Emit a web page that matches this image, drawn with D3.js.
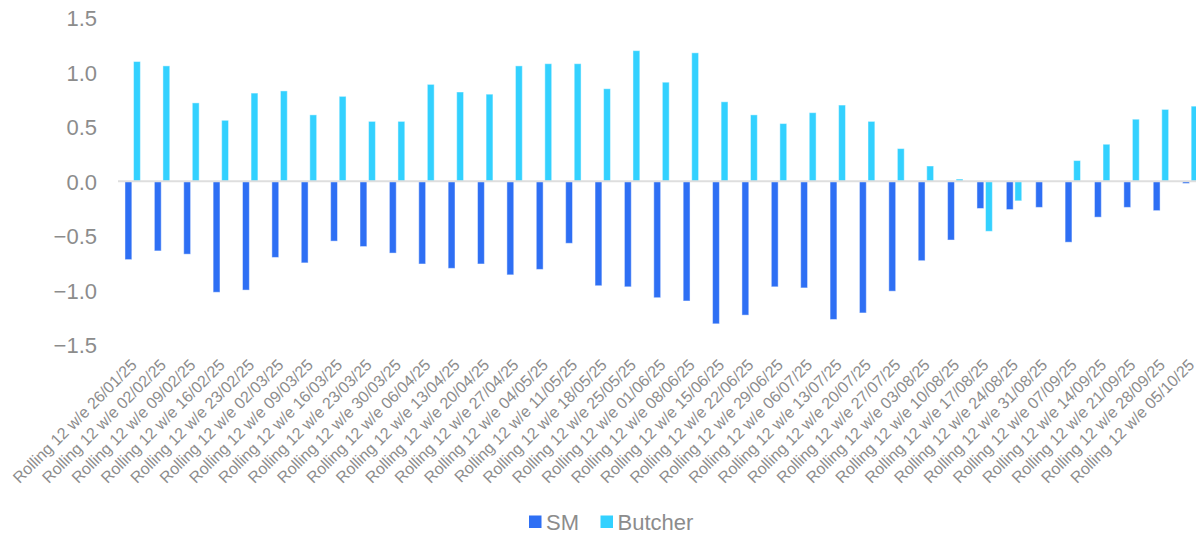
<!DOCTYPE html>
<html>
<head>
<meta charset="utf-8">
<script src="https://cdn.jsdelivr.net/npm/d3@7"></script>
<style>
  html, body { margin: 0; padding: 0; background: #ffffff; }
  svg { display: block; font-family: "Liberation Sans", Arial, sans-serif; }
</style>
</head>
<body>
<svg id="chart" width="1196" height="534"></svg>
<script>
// Weekly rolling 12-week periods
const categories = [
  "26/01/25", "02/02/25", "09/02/25", "16/02/25", "23/02/25", "02/03/25",
  "09/03/25", "16/03/25", "23/03/25", "30/03/25", "06/04/25", "13/04/25",
  "20/04/25", "27/04/25", "04/05/25", "11/05/25", "18/05/25", "25/05/25",
  "01/06/25", "08/06/25", "15/06/25", "22/06/25", "29/06/25", "06/07/25",
  "13/07/25", "20/07/25", "27/07/25", "03/08/25", "10/08/25", "17/08/25",
  "24/08/25", "31/08/25", "07/09/25", "14/09/25", "21/09/25", "28/09/25",
  "05/10/25"
].map(d => "Rolling 12 w/e " + d);

const seriesNames = ["SM", "Butcher"];

const smValues = [
  -0.72, -0.64, -0.67, -1.02, -1.00, -0.70, -0.75, -0.55, -0.60, -0.66,
  -0.76, -0.80, -0.76, -0.86, -0.81, -0.57, -0.96, -0.97, -1.07, -1.10,
  -1.31, -1.23, -0.97, -0.98, -1.27, -1.21, -1.01, -0.73, -0.54, -0.25,
  -0.26, -0.24, -0.56, -0.33, -0.24, -0.27, -0.02
];

const butcherValues = [
  1.10, 1.06, 0.72, 0.56, 0.81, 0.83, 0.61, 0.78, 0.55, 0.55,
  0.89, 0.82, 0.80, 1.06, 1.08, 1.08, 0.85, 1.20, 0.91, 1.18,
  0.73, 0.61, 0.53, 0.63, 0.70, 0.55, 0.30, 0.14, 0.02, -0.46,
  -0.18, 0.00, 0.19, 0.34, 0.57, 0.66, 0.69
];

const yTicks = [-1.5, -1.0, -0.5, 0.0, 0.5, 1.0, 1.5];

const colors = { "SM": "#2e6ff4", "Butcher": "#33d1ff" };
const textColor = "#8c8c8c";

const svg = d3.select("#chart");

const x = d3.scaleBand()
  .domain(categories)
  .range([118, 1205])
  .padding(0);

const y = d3.scaleLinear()
  .domain([-1.5, 1.5])
  .range([344.5, 18]);

const sub = d3.scaleBand()
  .domain(seriesNames)
  .range([-7.7, 7.7])
  .paddingInner(0.2);

const rows = categories.map((c, i) => ({
  category: c,
  values: [
    { series: "SM", value: smValues[i] },
    { series: "Butcher", value: butcherValues[i] }
  ]
}));

// Y axis tick labels (no axis line)
const yAxis = d3.axisLeft(y).tickValues(yTicks).tickFormat(d3.format(".1f")).tickSize(0).tickPadding(0);
const yg = svg.append("g").attr("transform", "translate(97,0)").call(yAxis);
yg.select(".domain").remove();
yg.selectAll("text")
  .attr("fill", textColor)
  .attr("font-size", "22px")
  .attr("font-family", "'Liberation Sans', Arial, sans-serif")
  .attr("dy", "0.36em");

// Bars
const groups = svg.append("g").selectAll("g")
  .data(rows)
  .join("g")
  .attr("transform", d => `translate(${x(d.category) + x.bandwidth() / 2},0)`);

groups.selectAll("rect")
  .data(d => d.values)
  .join("rect")
  .attr("x", d => sub(d.series))
  .attr("width", sub.bandwidth())
  .attr("y", d => y(Math.max(0, d.value)))
  .attr("height", d => Math.abs(y(d.value) - y(0)))
  .attr("fill", d => colors[d.series])
  .attr("stroke", "rgba(255,255,255,0.45)")
  .attr("stroke-width", 1);

// Zero baseline
svg.append("line")
  .attr("x1", 118).attr("x2", 1205)
  .attr("y1", y(0)).attr("y2", y(0))
  .attr("stroke", "#dedede")
  .attr("stroke-width", 2);

// X axis category labels, rotated
const xAxis = d3.axisBottom(x).tickSize(0).tickPadding(0);
const xg = svg.append("g").call(xAxis);
xg.select(".domain").remove();
xg.selectAll(".tick")
  .attr("transform", d => `translate(${x(d) + x.bandwidth() / 2 + 5},366)`);
xg.selectAll("text")
  .attr("fill", textColor)
  .attr("font-size", "16px")
  .attr("font-family", "'Liberation Sans', Arial, sans-serif")
  .attr("text-anchor", "end")
  .attr("y", 0)
  .attr("dy", 0)
  .attr("transform", "rotate(-45)");

// Legend
const legend = svg.append("g");
const legendItems = [
  { name: "SM", x: 529 },
  { name: "Butcher", x: 600.5 }
];
const li = legend.selectAll("g").data(legendItems).join("g")
  .attr("transform", d => `translate(${d.x},515.5)`);
li.append("rect")
  .attr("width", 12.5).attr("height", 12.5)
  .attr("fill", d => colors[d.name]);
li.append("text")
  .attr("x", 17)
  .attr("y", 6.5)
  .attr("dy", "0.35em")
  .attr("fill", textColor)
  .attr("font-size", "22px")
  .text(d => d.name);
</script>
</body>
</html>
